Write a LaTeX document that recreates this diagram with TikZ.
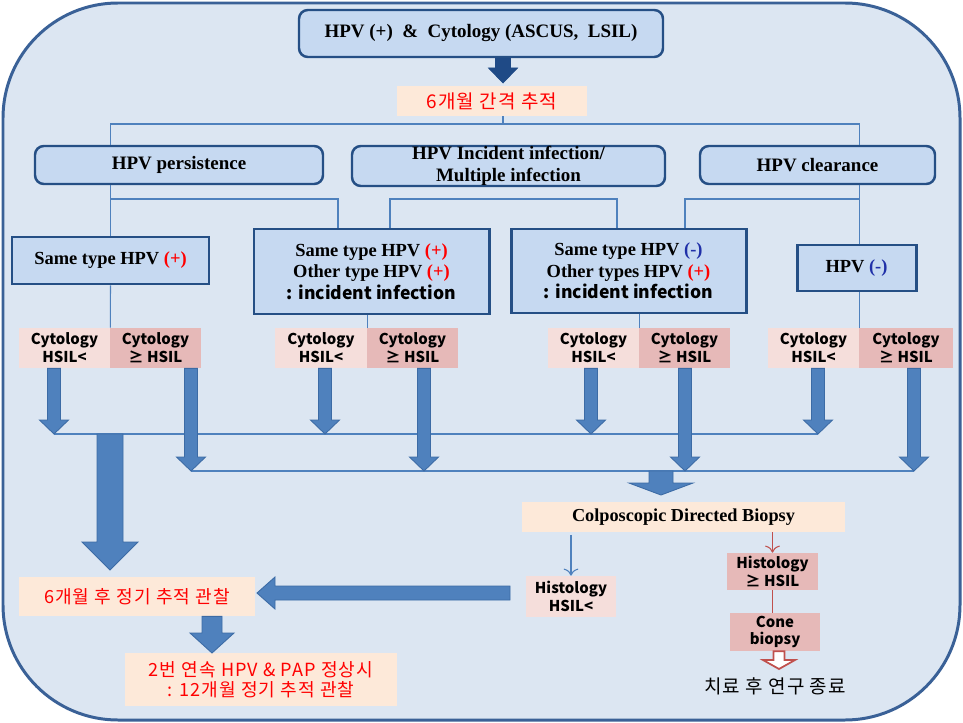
\documentclass[tikz,border=0pt]{standalone}
\usepackage{fontspec}
\setmainfont{Liberation Serif}
\newfontfamily\kr{Noto Sans CJK KR}
\newfontfamily\krwide{Noto Sans CJK KR}[LetterSpace=6]
\usetikzlibrary{calc,arrows.meta}
\definecolor{frameFill}{HTML}{DCE6F2}
\definecolor{frameLine}{HTML}{3A6197}
\definecolor{boxFill}{HTML}{C6D9F1}
\definecolor{boxLine}{HTML}{254F85}
\definecolor{linkBlue}{HTML}{4F81BD}
\definecolor{arrowLine}{HTML}{3C6BA5}
\definecolor{navy}{HTML}{1F4A86}
\definecolor{pinkLight}{HTML}{F5DEDB}
\definecolor{pinkDark}{HTML}{E6B9B8}
\definecolor{peach}{HTML}{FDE9D9}
\definecolor{redLine}{HTML}{C0504D}
\definecolor{minusBlue}{HTML}{2030A8}
\newcommand{\px}{0.02cm}
\tikzset{
	roundbox/.style={draw=boxLine, line width=1.4pt, fill=boxFill, rounded corners=5pt,
			inner sep=0pt, align=center, font=\bfseries\fontsize{10.8}{12.5}\selectfont},
	squarebox/.style={draw=boxLine, line width=1.7pt, fill=boxFill,
			inner sep=0pt, align=center, font=\bfseries\fontsize{10.5}{12.3}\selectfont},
	cytlow/.style={fill=pinkLight, inner sep=0pt, align=center,
			font=\kr\bfseries\fontsize{8.5}{10.2}\selectfont},
	cythigh/.style={cytlow, fill=pinkDark},
	note/.style={fill=peach, inner sep=0pt, align=center, text=red,
			font=\krwide\fontsize{10.3}{11.4}\selectfont},
	link/.style={draw=linkBlue, line width=0.6pt},
	busline/.style={draw=linkBlue, line width=1.1pt},
	blockarrow/.style={fill=linkBlue, draw=arrowLine, line width=0.5pt},
}
% block arrow pointing down: [style]{from}{tip}{shaft half}{head half}{head length}
\newcommand{\downblock}[6][blockarrow]{%
	\draw[#1] ($(#2)+(-#4,0)$) -- ($(#3)+(-#4,-#6)$) -- ($(#3)+(-#5,-#6)$) -- (#3)
	-- ($(#3)+(#5,-#6)$) -- ($(#3)+(#4,-#6)$) -- ($(#2)+(#4,0)$) -- cycle;}
% block arrow pointing left
\newcommand{\leftblock}[6][blockarrow]{%
	\draw[#1] ($(#2)+(0,-#4)$) -- ($(#3)+(#6,-#4)$) -- ($(#3)+(#6,-#5)$) -- (#3)
	-- ($(#3)+(#6,#5)$) -- ($(#3)+(#6,#4)$) -- ($(#2)+(0,#4)$) -- cycle;}

\begin{document}
\begin{tikzpicture}[x=0.02cm, y=-0.02cm]
	\useasboundingbox (0,0) rectangle (963,723);
	\draw[draw=frameLine, line width=1.7pt, fill=frameFill, rounded corners=2.3cm] (3,3) rectangle (960,720);

	% top of the flow
	\node[roundbox, minimum width=364*\px, minimum height=47*\px] (top) at (481,33.5)
		{HPV (+)~~\&~~Cytology (ASCUS,~~LSIL)};
	\node[note, minimum width=190*\px, minimum height=30*\px, font=\krwide\fontsize{10.8}{12}\selectfont] (six1) at (492,101) {6개월 간격 추적};
	\coordinate (hub) at (503,124);
	\downblock[fill=navy, draw=navy]{top.south -| hub}{503,83}{7.5}{14.5}{15}

	\node[roundbox, minimum width=288*\px, minimum height=38*\px] (r1a) at (179,165) {HPV persistence};
	\node[roundbox, minimum width=313*\px, minimum height=40*\px] (r1b) at (508.5,166)
		{HPV Incident infection/\\Multiple infection};
	\node[roundbox, minimum width=235*\px, minimum height=38*\px] (r1c) at (817.5,165) {HPV clearance};

	\node[squarebox, minimum width=197*\px, minimum height=47*\px] (b1) at (110.5,260.5)
		{Same type HPV {\color{red}(+)}};
	\node[squarebox, minimum width=235*\px, minimum height=85*\px] (b2) at (371.5,271.5)
		{Same type HPV {\color{red}(+)}\\Other type HPV {\color{red}(+)}\\
		{\kr\bfseries\fontsize{10}{12.3}\selectfont : incident infection}};
	\node[squarebox, minimum width=235*\px, minimum height=84*\px] (b3) at (628.5,271)
		{Same type HPV {\color{minusBlue}(-)}\\Other types HPV {\color{red}(+)}\\
		{\kr\bfseries\fontsize{10}{12.3}\selectfont : incident infection}};
	\node[squarebox, minimum width=119*\px, minimum height=46*\px] (b4) at (856.5,268)
		{HPV {\color{minusBlue}(-)}};

	% cytology results
	\node[cytlow, minimum width=91*\px, minimum height=40*\px] (c1l) at (64.5,348) {Cytology\\HSIL<};
	\node[cythigh, minimum width=91*\px, minimum height=40*\px] (c1r) at (155.5,348) {Cytology\\≥ HSIL};
	\node[cytlow, minimum width=92*\px, minimum height=40*\px] (c2l) at (321,348) {Cytology\\HSIL<};
	\node[cythigh, minimum width=91*\px, minimum height=40*\px] (c2r) at (412.5,348) {Cytology\\≥ HSIL};
	\node[cytlow, minimum width=91*\px, minimum height=40*\px] (c3l) at (593.5,348) {Cytology\\HSIL<};
	\node[cythigh, minimum width=91*\px, minimum height=40*\px] (c3r) at (684.5,348) {Cytology\\≥ HSIL};
	\node[cytlow, minimum width=91*\px, minimum height=40*\px] (c4l) at (813.5,348) {Cytology\\HSIL<};
	\node[cythigh, minimum width=94*\px, minimum height=40*\px] (c4r) at (906,348) {Cytology\\≥ HSIL};

	% tree lines
	\coordinate (lvl) at (0,199);
	\coordinate (k1) at (338,0);
	\coordinate (k2) at (390,0);
	\coordinate (k3) at (617,0);
	\coordinate (k4) at (685,0);
	\draw[link] (six1.south -| hub) -- (hub);
	\draw[link] (r1a.north -| b1.north) |- (hub) -| (r1c.north -| c4l.north east);
	\draw[link] (r1a.south -| b1.north) -- (b1.north);
	\draw[link] (b1.north |- lvl) -| (k1 |- b2.north);
	\draw[link] (k2 |- b2.north) -- (k2 |- lvl) -- (k3 |- lvl) -- (k3 |- b3.north);
	\draw[link] (k4 |- b3.north) -- (k4 |- lvl) -- (c4l.north east |- lvl);
	\draw[link] (r1c.south -| c4l.north east) -- (b4.north -| c4l.north east);
	\draw[link] (b1.south) -- (c1l.north east);
	\draw[link] (b2.south -| c2l.north east) -- (c2l.north east);
	\draw[link] (b3.south -| c3l.north east) -- (c3l.north east);
	\draw[link] (b4.south -| c4l.north east) -- (c4l.north east);

	% arrows to the two bus lines
	\coordinate (s1) at (54,434);
	\coordinate (s2) at (325,434);
	\coordinate (s3) at (591,434);
	\coordinate (s4) at (818,434);
	\coordinate (l1) at (191,471);
	\coordinate (l2) at (424,471);
	\coordinate (l3) at (685,471);
	\coordinate (l4) at (914,471);
	\draw[busline] (s1) -- (s4);
	\draw[busline] (l1) -- (l4);
	\foreach \t/\c in {s1/c1l, s2/c2l, s3/c3l, s4/c4l, l1/c1r, l2/c2r, l3/c3r, l4/c4r}{
		\downblock{\t |- \c.south}{\t}{6.5}{14.5}{14}
	}

	% lower part
	\node[note, minimum width=236*\px, minimum height=39*\px] (six2) at (137,596.5) {6개월 후 정기 추적 관찰};
	\node[note, minimum width=272*\px, minimum height=53*\px] (fin) at (261,679.5)
		{2번 연속 HPV \& PAP 정상시\\: 12개월 정기 추적 관찰};
	\node[note, text=black, minimum width=323*\px, minimum height=30*\px, font=\bfseries\fontsize{10.4}{12}\selectfont] (colpo) at (683.5,517)
		{Colposcopic Directed Biopsy};
	\node[cytlow, minimum width=90*\px, minimum height=41*\px] (h1) at (571,596.5) {Histology\\HSIL<};
	\node[cythigh, minimum width=91*\px, minimum height=37*\px] (h2) at (772.5,571.5) {Histology\\≥ HSIL};
	\node[cythigh, minimum width=90*\px, minimum height=38*\px] (cone) at (775,632) {Cone\\biopsy};
	\node[font=\krwide\fontsize{10.8}{12}\selectfont] (done) at (775,686) {치료 후 연구 종료};

	\coordinate (bigtip) at (110,570);
	\downblock{bigtip |- s1}{bigtip}{13}{28}{28}
	\coordinate (colpotip) at (661,495);
	\downblock{colpotip |- l1}{colpotip}{12}{32}{12}
	\coordinate (sixtip) at (212,653);
	\downblock{sixtip |- six2.south}{sixtip}{10}{22}{20}
	\coordinate (backfrom) at (510,593);
	\coordinate (backtip) at (257,593);
	\leftblock{backfrom}{backtip}{7}{16}{18}
	\coordinate (endtip) at (779,669);
	\downblock[fill=white, draw=redLine, line width=1pt]{endtip |- cone.south}{endtip}{5.5}{16}{9}

	\draw[link, -{To[length=4pt]}, shorten <=1.5pt] (h1.north |- colpo.south) -- (h1.north);
	\draw[draw=redLine, line width=0.6pt, -{To[length=4pt]}] (h2.north |- colpo.south) -- (h2.north);
	\draw[draw=redLine, line width=0.6pt] (h2.south) -- (h2.south |- cone.north);
\end{tikzpicture}
\end{document}
